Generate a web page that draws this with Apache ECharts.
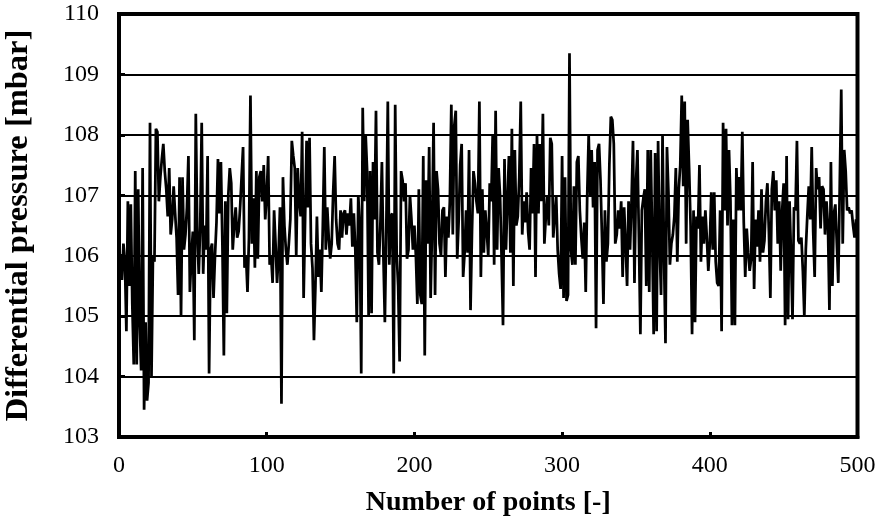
<!DOCTYPE html>
<html>
<head>
<meta charset="utf-8">
<script src="https://cdn.jsdelivr.net/npm/echarts@6/dist/echarts.min.js"></script>
<style>
html,body{margin:0;padding:0;background:#fff;}
#chart{width:879px;height:531px;}
</style>
</head>
<body>
<div id="chart"></div>
<script>
// Differential pressure [mbar] for point index 0..500
const pressure = [
105.5,106.0,105.6,106.2,105.9,104.75,106.9,105.5,106.85,105.2,
104.2,107.4,104.2,107.1,104.9,104.1,107.45,103.45,104.9,103.6,
103.9,108.2,104.0,106.0,105.9,108.1,108.05,106.9,107.3,107.6,
107.85,107.4,107.1,106.65,107.45,106.35,106.6,107.15,106.7,106.3,
105.35,107.3,105.0,107.3,106.1,106.35,106.8,107.65,105.4,106.0,
106.4,104.6,108.35,106.4,105.7,106.5,108.2,105.7,106.5,106.1,
107.65,104.05,106.1,106.2,105.3,106.0,106.55,107.6,106.7,107.55,
106.2,104.35,106.9,105.05,107.0,107.45,107.2,106.1,106.5,106.8,
106.3,106.4,106.8,107.3,107.8,105.8,106.0,105.4,106.3,108.65,
106.2,106.95,105.8,107.4,105.95,107.3,107.4,106.9,107.5,106.6,
107.0,107.65,105.85,106.0,105.55,106.75,106.2,105.55,106.0,106.8,
103.55,107.3,106.5,106.1,105.85,106.2,106.6,107.9,107.65,107.45,
106.0,107.45,106.9,106.65,108.05,105.3,106.6,107.9,106.8,107.95,
106.2,105.8,104.6,105.5,106.65,105.65,106.1,105.4,106.5,107.8,
106.1,106.8,106.3,105.95,106.2,107.05,107.65,106.6,106.2,106.1,
106.75,106.3,106.7,106.75,106.35,106.7,106.5,106.95,106.15,106.7,
106.1,104.9,107.0,106.5,104.05,108.45,106.9,108.0,107.4,105.0,
107.4,105.05,107.55,106.6,108.4,106.05,105.85,106.55,107.55,106.0,
104.9,106.5,108.55,105.85,106.65,106.7,104.05,108.5,106.05,105.5,
104.25,107.4,107.25,106.9,107.2,105.95,106.1,107.0,106.6,106.1,
106.5,106.0,105.2,107.1,105.35,105.2,107.65,104.35,107.25,106.2,
107.8,105.3,106.5,108.2,105.35,107.4,107.1,106.2,106.0,106.75,
106.8,105.65,106.65,106.3,106.9,108.5,106.35,108.15,108.4,105.95,
106.6,107.5,107.85,105.65,106.05,106.75,106.05,107.75,105.1,106.4,
107.4,107.2,106.9,106.7,108.55,105.65,107.1,106.05,106.75,106.4,
106.0,107.2,106.9,108.0,105.85,108.4,106.1,107.45,107.0,106.0,
104.85,107.6,106.1,106.9,107.65,106.05,108.1,105.5,107.75,106.5,
106.65,107.3,108.55,106.35,106.9,106.55,107.05,106.4,106.1,107.45,
106.7,107.85,105.65,108.0,106.7,107.85,106.9,108.35,106.2,106.65,
107.0,106.5,107.95,107.85,106.3,106.65,107.0,106.1,105.7,105.45,
107.65,105.3,107.3,105.25,105.35,109.35,106.1,105.85,107.15,105.85,
107.55,107.65,106.75,106.3,105.95,106.55,105.4,107.0,108.0,107.0,
107.75,106.8,107.55,104.8,107.75,107.85,107.25,106.3,105.2,106.75,
105.9,106.2,107.5,108.3,108.25,107.85,106.2,106.35,106.75,106.45,
106.9,105.65,106.8,106.2,105.5,106.9,106.1,106.9,107.9,105.55,
107.2,107.75,106.3,104.7,106.75,106.95,107.1,105.5,107.75,105.4,
107.75,106.3,104.7,107.7,104.75,107.9,106.2,105.35,108.0,106.0,
104.55,107.8,107.05,105.85,106.2,106.35,106.65,107.45,105.9,107.1,
107.5,108.65,107.15,108.55,106.2,108.25,107.45,106.5,104.7,106.75,
104.9,106.65,106.45,107.5,105.9,106.65,106.2,106.75,106.3,105.75,
106.2,107.05,106.1,107.05,105.9,105.55,105.5,106.75,104.75,108.2,
106.75,108.1,106.5,107.75,106.9,104.85,106.6,104.85,107.45,106.75,
107.3,106.75,108.05,106.55,105.65,106.45,106.05,105.75,105.95,107.55,
105.45,106.6,106.15,106.75,105.9,107.1,106.05,106.25,106.9,107.2,
106.4,105.3,107.1,107.4,106.75,107.25,106.2,106.9,105.75,106.75,
107.2,104.85,107.65,104.95,106.9,106.0,104.95,106.8,106.75,107.9,
106.25,106.2,106.3,105.75,105.0,106.1,106.65,107.15,106.6,107.8,
106.4,105.65,107.45,107.1,107.3,106.45,107.15,107.1,106.35,106.9,
106.5,105.1,107.55,105.5,106.7,106.85,106.2,105.55,107.2,108.75,
106.2,107.75,107.4,106.75,106.8,106.7,106.75,106.5,106.3,106.6,
106.25
];
const xTicks = [0, 100, 200, 300, 400, 500];
const yTicks = [103, 104, 105, 106, 107, 108, 109, 110];

const seriesData = pressure.map((v, i) => [i, v]);
const chart = echarts.init(document.getElementById('chart'), null, {renderer: 'canvas'});
const serif = '"Liberation Serif", "Times New Roman", serif';
chart.setOption({
  animation: false,
  backgroundColor: '#fff',
  grid: {left: 119, right: 21.5, top: 14, bottom: 94, show: true, borderColor: '#000', borderWidth: 4, backgroundColor: 'transparent', outerBoundsMode: 'none', containLabel: false},
  xAxis: {
    type: 'value', min: xTicks[0], max: xTicks[xTicks.length - 1], interval: 100,
    name: 'Number of points [-]', nameLocation: 'middle', nameGap: 52,
    nameTextStyle: {fontFamily: serif, fontWeight: 'bold', fontSize: 28, color: '#000'},
    axisLine: {show: true, lineStyle: {color: '#000', width: 4}},
    axisTick: {show: true, inside: true, length: 5, lineStyle: {color: '#000', width: 3}},
    axisLabel: {fontFamily: serif, fontSize: 24, color: '#000', margin: 17},
    splitLine: {show: false}
  },
  yAxis: {
    type: 'value', min: yTicks[0], max: yTicks[yTicks.length - 1], interval: 1,
    name: 'Differential pressure [mbar]', nameLocation: 'middle', nameGap: 84,
    nameTextStyle: {fontFamily: serif, fontWeight: 'bold', fontSize: 32.5, color: '#000'},
    axisLine: {show: true, lineStyle: {color: '#000', width: 4}},
    axisTick: {show: true, inside: true, length: 6, lineStyle: {color: '#000', width: 3}},
    axisLabel: {fontFamily: serif, fontSize: 24, color: '#000', margin: 20},
    splitLine: {show: true, lineStyle: {color: '#000', width: 1.8}}
  },
  series: [{
    type: 'line', data: seriesData, showSymbol: false, symbol: 'none',
    lineStyle: {color: '#000', width: 2.75}, z: 3
  }]
});
</script>
</body>
</html>
